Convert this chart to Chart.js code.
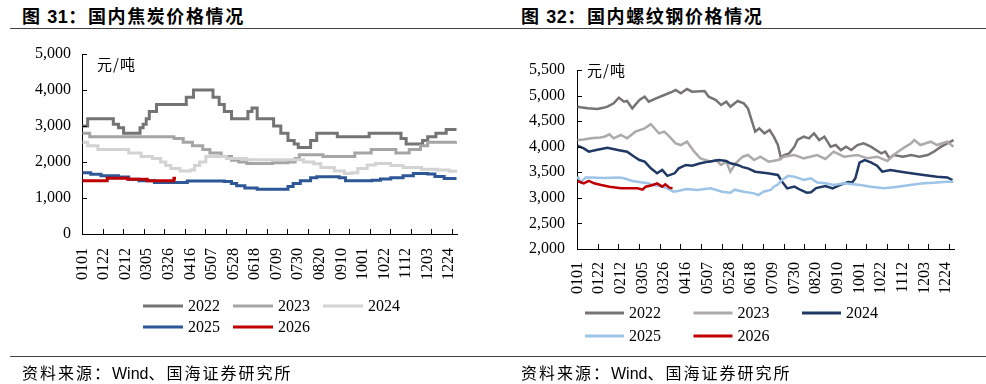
<!DOCTYPE html>
<html><head><meta charset="utf-8">
<script src="https://cdn.jsdelivr.net/npm/chart.js@4.4.1/dist/chart.umd.min.js"></script>
<style>
html,body{margin:0;padding:0;background:#fff;}
#page{position:relative;width:986px;height:384px;overflow:hidden;background:#fff;}
.title{position:absolute;top:6px;height:18px;line-height:18px;font-family:"Noto Sans CJK SC";font-weight:bold;font-size:18px;letter-spacing:1.6px;color:#000;white-space:nowrap;}
.title .n{font-family:"Liberation Sans";letter-spacing:0.5px;}
.rule{position:absolute;left:10px;width:976px;height:0;border-top:1.5px solid #444;}
.src{position:absolute;top:364px;height:16px;line-height:16px;font-family:"Noto Sans CJK SC";font-size:16px;letter-spacing:2px;color:#000;white-space:nowrap;}
.src .w{font-family:"Liberation Sans";letter-spacing:0;}
.unit{position:absolute;height:16px;line-height:16px;font-family:"Noto Sans CJK SC";font-size:15px;letter-spacing:1px;color:#000;white-space:nowrap;}
canvas{position:absolute;top:0;}
</style></head>
<body><div id="page">
<div class="title" style="left:22px">图 <span class="n">31</span>：国内焦炭价格情况</div>
<div class="title" style="left:521px">图 <span class="n">32</span>：国内螺纹钢价格情况</div>
<div class="rule" style="top:28px"></div>
<canvas id="c1" width="493" height="384" style="left:0"></canvas>
<canvas id="c2" width="493" height="384" style="left:493px"></canvas>
<div class="unit" style="left:97px;top:56px">元/吨</div>
<div class="unit" style="left:587px;top:62px">元/吨</div>
<div class="rule" style="top:356px"></div>
<div class="src" style="left:22px">资料来源：<span class="w">Wind</span>、国海证券研究所</div>
<div class="src" style="left:521px">资料来源：<span class="w">Wind</span>、国海证券研究所</div>
</div>
<script>
// ---- axis labels ----
const tickLabels = ['0101','0122','0212','0305','0326','0416','0507','0528','0618','0709','0730','0820','0910','1001','1022','1112','1203','1224'];
const labelDays = [0,21,42,63,84,105,126,147,168,189,210,231,252,273,294,315,336,357];
const seriesNames = ['2022','2023','2024','2025','2026'];

// ---- coke prices (day of year, yuan/t), stepwise: value holds from its day on ----
const cokeDays2022 = [0,5,30,35,40,56,59,62,65,72,101,108,127,133,138,145,161,165,170,186,193,200,206,210,222,228,248,279,310,315,331,336,344,354,364];
const coke2022     = [3000,3200,3050,2950,2800,2950,3050,3200,3400,3600,3800,4000,3800,3600,3400,3200,3400,3500,3200,3000,2800,2600,2500,2400,2600,2800,2700,2800,2650,2500,2600,2700,2800,2900,2900];
const cokeDays2023 = [0,7,89,98,107,117,124,135,145,152,160,185,200,207,211,234,265,281,305,318,329,336,364];
const coke2023     = [2800,2700,2650,2550,2450,2350,2250,2150,2050,2000,1960,1980,2000,2100,2200,2150,2250,2350,2250,2350,2450,2550,2570];
const cokeDays2024 = [0,5,15,45,57,68,76,81,86,95,105,109,114,120,140,160,207,215,225,232,245,255,262,268,277,285,300,312,330,345,357,364];
const coke2024     = [2550,2450,2350,2250,2150,2100,2000,1900,1820,1750,1780,1900,2000,2150,2100,2060,2060,2000,1950,1850,1750,1680,1700,1820,1920,1960,1900,1850,1800,1780,1740,1700];
const cokeDays2025 = [0,8,18,35,45,55,70,97,102,138,145,150,158,170,196,200,205,212,222,228,250,256,282,290,300,312,322,336,343,352,364];
const coke2025     = [1700,1660,1620,1580,1520,1480,1430,1430,1470,1460,1400,1340,1280,1240,1240,1320,1400,1480,1560,1590,1560,1480,1490,1530,1560,1620,1680,1670,1600,1540,1540];
const cokeDays2026 = [0,24,44,63,89,91];
const coke2026     = [1480,1550,1520,1480,1550,1550];

// ---- rebar prices (day of year, yuan/t) ----
const rebarDays2022 = [0,3,10,19,25,29,35,40,45,48,53,60,65,69,76,84,92,95,100,106,111,123,127,134,139,144,148,155,161,165,168,172,176,181,186,190,194,197,200,205,210,213,219,224,229,234,239,245,250,255,260,265,271,277,284,289,294,298,302,306,315,323,331,339,345,352,358,364];
const rebar2022     = [4780,4770,4750,4737,4760,4783,4848,4959,4880,4894,4750,4913,4978,4880,4946,5011,5076,5109,5044,5128,5076,5089,4978,4913,4815,4880,4783,4894,4848,4750,4555,4294,4359,4261,4326,4196,4033,3773,3838,3870,4001,4131,4196,4164,4261,4131,4196,4001,4033,3935,4001,3935,4033,4066,4001,3935,3870,3903,3773,3838,3805,3838,3805,3838,3903,4001,4066,4131];
const rebarDays2023 = [0,6,13,22,26,31,35,42,48,56,65,71,76,79,84,89,95,100,106,113,119,129,134,139,144,148,153,160,165,171,177,185,194,200,210,219,232,240,248,258,271,281,290,300,306,315,323,326,332,342,348,358,364];
const rebar2023     = [4131,4140,4164,4180,4196,4242,4164,4229,4164,4294,4359,4440,4327,4261,4294,4196,4066,4033,4098,3903,3773,3708,3740,3643,3708,3512,3675,3805,3838,3740,3805,3708,3740,3805,3838,3773,3838,3760,3903,3805,3838,3773,3805,3721,3838,3968,4066,4131,4033,4098,4033,4098,4001];
const rebarDays2024 = [0,6,11,18,29,39,48,55,60,65,71,77,82,87,94,98,105,111,119,127,137,144,148,155,160,165,172,184,194,198,203,210,216,222,226,231,240,247,255,262,266,269,273,278,284,290,295,303,313,323,335,348,358,363];
const rebar2024     = [4020,3968,3903,3935,3981,3935,3903,3805,3740,3708,3577,3480,3545,3430,3480,3577,3643,3630,3675,3708,3740,3720,3675,3643,3600,3577,3512,3480,3447,3317,3186,3219,3154,3100,3110,3190,3230,3186,3260,3310,3300,3382,3690,3740,3695,3630,3512,3545,3512,3480,3447,3414,3400,3349];
const rebarDays2025 = [0,3,8,13,25,40,45,53,61,69,74,82,87,93,97,106,116,129,140,148,152,161,171,175,180,187,190,194,198,204,210,219,226,232,240,248,258,274,284,297,310,322,335,345,357,364];
const rebar2025     = [3420,3300,3400,3400,3390,3400,3382,3330,3304,3283,3251,3219,3186,3121,3134,3173,3154,3186,3121,3100,3160,3121,3088,3056,3121,3154,3219,3260,3349,3430,3414,3349,3382,3300,3284,3251,3284,3251,3219,3186,3219,3251,3284,3295,3316,3317];
const rebarDays2026 = [0,6,11,16,23,31,42,58,63,66,73,77,82,85,89,92];
const rebar2026     = [3330,3284,3330,3284,3251,3219,3186,3186,3160,3219,3251,3284,3219,3264,3199,3186];

const cokeColors  = ['#747474','#A5A5A5','#D3D3D3','#2D5796','#C00000'];
const rebarColors = ['#777373','#AEAAAA','#1F3864','#9DC3E6','#C00000'];

function pts(days, vals){ return days.map((d,i)=>({x:d, y:vals[i]})); }

const inwardTicks = {
  id:'inwardTicks',
  afterDraw(chart, args, o){
    const {ctx, chartArea} = chart; const xs = chart.scales.x, ys = chart.scales.y;
    ctx.save(); ctx.strokeStyle='#000'; ctx.lineWidth=1; ctx.beginPath();
    ys.ticks.forEach(t=>{ const py=Math.round(ys.getPixelForValue(t.value))+0.5; ctx.moveTo(chartArea.left,py); ctx.lineTo(chartArea.left+5,py); });
    for(let d=-0.5; d<=364.5; d+=o.every){ const px=Math.round(xs.getPixelForValue(d))+0.5; ctx.moveTo(px,chartArea.bottom); ctx.lineTo(px,chartArea.bottom-5); }
    ctx.stroke(); ctx.restore();
  }
};
const gridLegend = {
  id:'gridLegend',
  afterDraw(chart, args, o){
    const ctx = chart.ctx; ctx.save();
    ctx.font = '16px "Liberation Serif"'; ctx.textBaseline='middle'; ctx.textAlign='left'; ctx.fillStyle='#000';
    chart.data.datasets.forEach((ds,i)=>{
      const x = o.x + (i%3)*o.colW, y = o.y + Math.floor(i/3)*o.rowH;
      ctx.strokeStyle = ds.borderColor; ctx.lineWidth = 3; ctx.beginPath();
      ctx.moveTo(x,y); ctx.lineTo(x+o.swatch,y); ctx.stroke();
      ctx.fillText(ds.label, x+o.swatch+5, y+1);
    });
    ctx.restore();
  }
};

function makeChart(id, cfg){
  const datasets = cfg.series.map((s,i)=>({
    label: seriesNames[i], data: pts(s[0], s[1]), borderColor: cfg.colors[i], backgroundColor: cfg.colors[i],
    borderWidth: cfg.lineWidth, pointRadius: 0, stepped: cfg.stepped, tension: 0, order: 5-i, fill:false
  }));
  return new Chart(document.getElementById(id), {
    type:'line',
    data:{datasets},
    options:{
      responsive:false, animation:false, devicePixelRatio:1,
      layout:{padding:cfg.padding},
      plugins:{legend:{display:false}, tooltip:{enabled:false}, gridLegend:cfg.legend, inwardTicks:{every:20}},
      scales:{
        x:{type:'linear', min:-0.5, max:364.5,
           afterBuildTicks:(ax)=>{ ax.ticks = labelDays.map(v=>({value:v})); },
           afterFit:(s)=>{ s.height = 50; },
           ticks:{autoSkip:false, minRotation:90, maxRotation:90, padding:cfg.xPad, color:'#000',
                  font:{family:'Liberation Serif', size:16},
                  callback:(v)=>{ const k = labelDays.indexOf(v); return k>=0 ? tickLabels[k] : ''; }},
           grid:{display:false, drawTicks:false}, border:{display:true, color:'#000', width:1}},
        y:{min:cfg.yMin, max:cfg.yMax,
           afterFit:(s)=>{ s.width = cfg.yWidth; },
           ticks:{stepSize:cfg.yStep, padding:cfg.yPad, color:'#000', font:{family:'Liberation Serif', size:16},
                  callback:(v)=>Number(v).toLocaleString('en-US')},
           grid:{display:false, drawTicks:false}, border:{display:true, color:'#000', width:1}}
      }
    },
    plugins:[inwardTicks, gridLegend]
  });
}

makeChart('c1', {
  series:[[cokeDays2022,coke2022],[cokeDays2023,coke2023],[cokeDays2024,coke2024],[cokeDays2025,coke2025],[cokeDays2026,coke2026]],
  colors:cokeColors, lineWidth:3, stepped:'before',
  padding:{left:0, top:54, right:36, bottom:100},
  yMin:0, yMax:5000, yStep:1000, yWidth:82, yPad:11, xPad:14,
  legend:{x:143, y:306, colW:90, rowH:21, swatch:40}
});
makeChart('c2', {
  series:[[rebarDays2022,rebar2022],[rebarDays2023,rebar2023],[rebarDays2024,rebar2024],[rebarDays2025,rebar2025],[rebarDays2026,rebar2026]],
  colors:rebarColors, lineWidth:2.5, stepped:false,
  padding:{left:0, top:70, right:32, bottom:85},
  yMin:2000, yMax:5500, yStep:500, yWidth:84, yPad:12, xPad:13,
  legend:{x:92, y:313, colW:108.5, rowH:23, swatch:39}
});
</script>
</body></html>
